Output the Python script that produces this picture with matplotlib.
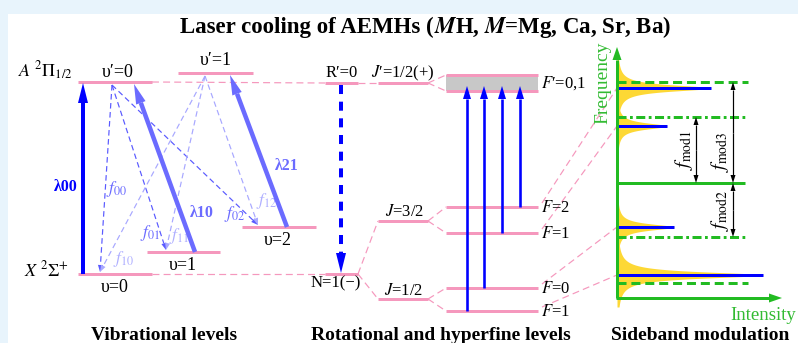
import numpy as np
import matplotlib
matplotlib.use("Agg")
import matplotlib.pyplot as plt
from matplotlib.patches import Rectangle

plt.rcParams['font.family'] = ['Liberation Serif', 'DejaVu Serif']
plt.rcParams['mathtext.fontset'] = 'stix'
plt.rcParams['lines.scale_dashes'] = False

# ---------------- data (diagram levels, in picture units) ----------------
vib_labels = ["υ′=0", "υ′=1", "υ=0", "υ=1", "υ=2"]
vib_level_y = [82, 73, 274, 252, 227]
vib_level_x = [(78, 152), (178, 253), (78, 152), (147, 220), (242, 316)]

decay_labels = ["00", "01", "02", "10", "11", "12"]
decay_from = [0, 0, 0, 1, 1, 1]          # index of upper vib level
decay_to = [2, 3, 4, 2, 3, 4]            # index of lower vib level

pump_labels = ["λ00", "λ10", "λ21"]

rot_labels = ["R′=0", r"$J$′=1/2(+)", "N=1(−)", r"$J$=3/2", r"$J$=1/2"]
rot_level_y = [83, 83, 274, 221, 299]

hf_labels = [r"$F$=2", r"$F$=1", r"$F$=0", r"$F$=1"]
hf_level_y = [207, 233, 288, 311]
band_y = (75, 91)

side_line_y = [88, 126, 227, 275]        # blue sideband frequencies
side_line_len = [94, 50, 57, 146]        # intensities (pixel length)
green_y = [82, 117, 183, 237, 283]
green_style = ['dash', 'dashdot', 'solid', 'dashdot', 'dash']
fmod_labels = [r"$f_{\mathrm{mod1}}$", r"$f_{\mathrm{mod3}}$", r"$f_{\mathrm{mod2}}$"]

# ---------------- figure ----------------
fig = plt.figure(figsize=(7.98, 3.43), dpi=100)
fig.patch.set_facecolor('#e8f4fc')
ax = fig.add_axes([0, 0, 1, 1])
ax.set_xlim(0, 798)
ax.set_ylim(343, 0)
ax.axis('off')
ax.add_patch(Rectangle((8, 14), 790, 329, facecolor='white', edgecolor='none', zorder=0))

PX = 0.72
PINK = '#f598bd'
BLUE = '#0000ff'
LBLUE = '#6b6bff'
DBLUE = '#5a5aff'
VLBLUE = '#a8a8ff'
GREEN = '#22bb22'


def arrow(x0, y0, x1, y1, color, w, hl, hw, dashes=None, z=3, head=True):
    d = np.array([x1 - x0, y1 - y0], float)
    L = np.hypot(*d)
    u = d / L
    n = np.array([-u[1], u[0]])
    b = np.array([x1, y1]) - u * hl
    kw = dict(color=color, lw=w * PX, solid_capstyle='butt', zorder=z)
    if dashes is not None:
        kw['dashes'] = dashes
        kw['dash_capstyle'] = 'butt'
    ax.plot([x0, b[0]], [y0, b[1]], **kw)
    if head:
        p1 = b + n * hw / 2
        p2 = b - n * hw / 2
        ax.fill([x1, p1[0], p2[0]], [y1, p1[1], p2[1]], color=color, lw=0, zorder=z)


def dbl_arrow(x, y0, y1, color='black'):
    ym = (y0 + y1) / 2
    arrow(x, ym, x, y0, color, 1.2, 8, 5)
    arrow(x, ym, x, y1, color, 1.2, 8, 5)


def level(x0, x1, y, lw=3):
    ax.plot([x0, x1], [y, y], color=PINK, lw=lw * PX, solid_capstyle='butt', zorder=2)


def pdash(xs, ys):
    ax.plot(xs, ys, color=PINK, lw=1.2 * PX, dashes=(5, 3), zorder=1)


# title
ax.text(434, 33, "Laser cooling of AEMHs (", fontsize=16.5, fontweight='bold', ha='right', va='baseline')
ax.text(434, 33, r"$\boldsymbol{M}$H, $\boldsymbol{M}$=Mg, Ca, Sr, Ba)", fontsize=16.5, fontweight='bold', ha='left', va='baseline')

# ---------------- vibrational levels ----------------
for (x0, x1), y in zip(vib_level_x, vib_level_y):
    level(x0, x1, y)
ax.text(45, 77, r"$A\ ^{2}\Pi_{1/2}$", fontsize=13, ha='center', va='baseline')
ax.text(46, 276, r"$X\ ^{2}\Sigma^{+}$", fontsize=13, ha='center', va='baseline')
vib_lab_pos = [(118, 77), (216, 65), (115, 292), (183, 270), (278, 245)]
for t, (x, y) in zip(vib_labels, vib_lab_pos):
    ax.text(x, y, t, fontsize=13, ha='center', va='baseline')

# connectors to rotational panel
pdash([152, 325], [vib_level_y[0], rot_level_y[0]])
pdash([152, 325], [vib_level_y[2], rot_level_y[2]])

# decay (dashed) arrows
start_pts = [(112, 85), (205, 76)]
end_x = {2: 100, 3: 166, 4: 258}
for lab, fi, ti in zip(decay_labels, decay_from, decay_to):
    sx, sy = start_pts[fi]
    col = DBLUE if fi == 0 else VLBLUE
    arrow(sx, sy, end_x[ti], vib_level_y[ti] - 2, col, 1.2, 7, 5, dashes=(4, 2.5), z=2)

flab_pos = {"00": (106, 193), "01": (140, 237), "02": (224, 218), "10": (113, 263),
            "11": (169, 240), "12": (256, 205)}
for lab in decay_labels:
    x, y = flab_pos[lab]
    col = '#6a6aff' if lab[0] == '0' else '#b0b0ff'
    ax.text(x, y, r"$f_{%s}$" % lab, fontsize=12.5, color=col, ha='left', va='baseline', zorder=2)

# pump arrows
arrow(83, vib_level_y[2], 83, vib_level_y[0] + 1, BLUE, 4, 20, 10, z=3)
arrow(195, vib_level_y[3], 134, vib_level_y[0] + 2, LBLUE, 4.5, 20, 10, z=3)
arrow(287, vib_level_y[4], 230, vib_level_y[1] + 2, LBLUE, 4.5, 20, 10, z=3)
ax.text(66, 191, pump_labels[0], fontsize=11.5, fontweight='bold', color=BLUE, ha='center', va='baseline')
ax.text(202, 217, pump_labels[1], fontsize=11.5, fontweight='bold', color=LBLUE, ha='center', va='baseline')
ax.text(287, 170, pump_labels[2], fontsize=11.5, fontweight='bold', color=LBLUE, ha='center', va='baseline')

# ---------------- rotational / hyperfine ----------------
level(325, 358, rot_level_y[0])
level(378, 428, rot_level_y[1])
level(325, 358, rot_level_y[2])
level(378, 428, rot_level_y[3])
level(378, 428, rot_level_y[4])
pdash([358, 378], [rot_level_y[0], rot_level_y[1]])
pdash([358, 378], [rot_level_y[2], rot_level_y[3]])
pdash([358, 378], [rot_level_y[2], rot_level_y[4]])
ax.text(342, 77, rot_labels[0], fontsize=12, ha='center', va='baseline')
ax.text(403, 77, rot_labels[1], fontsize=12, ha='center', va='baseline')
ax.text(336, 287, rot_labels[2], fontsize=12, ha='center', va='baseline')
ax.text(405, 216, rot_labels[3], fontsize=12, ha='center', va='baseline')
ax.text(404, 295, rot_labels[4], fontsize=12, ha='center', va='baseline')

# upper F' band
ax.add_patch(Rectangle((446, band_y[0]), 92, band_y[1] - band_y[0], facecolor='#c8c8c8',
                       edgecolor='none', zorder=1))
level(446, 538, band_y[0])
level(446, 538, band_y[1])
pdash([428, 446], [rot_level_y[1], band_y[0]])
pdash([428, 446], [rot_level_y[1], band_y[1]])
ax.text(541, 88, r"$F$′=0,1", fontsize=12, ha='left', va='baseline')

# hyperfine levels
for y in hf_level_y:
    level(446, 538, y)
pdash([428, 446], [rot_level_y[3], hf_level_y[0]])
pdash([428, 446], [rot_level_y[3], hf_level_y[1]])
pdash([428, 446], [rot_level_y[4], hf_level_y[2]])
pdash([428, 446], [rot_level_y[4], hf_level_y[3]])
for t, y in zip(hf_labels, hf_level_y):
    ax.text(541, y + 5, t, fontsize=12, ha='left', va='baseline')

# dashed decay R'=0 -> N=1
arrow(341, rot_level_y[0] + 2, 341, rot_level_y[2] - 1, BLUE, 4, 20, 10, dashes=(6.5, 5.5), z=3)

# hyperfine pump arrows
for x, y in zip([520, 502, 484, 467], hf_level_y):
    arrow(x, y, x, 86, BLUE, 2.6, 13, 8, z=3)

# pink mapping lines to sideband panel
for y0, y1 in zip(hf_level_y, side_line_y):
    pdash([542, 617], [y0 - 4, y1])

# ---------------- sideband panel ----------------
AX0 = 617
yy = np.linspace(-32, 32, 400)
g = 3.8
for y0, L in zip(side_line_y, side_line_len):
    prof = L * g ** 2 / (g ** 2 + yy ** 2)
    ax.fill_betweenx(y0 + yy, AX0, AX0 + prof, color='#fdd835', lw=0, zorder=1)
for y0, L in zip(side_line_y, side_line_len):
    ax.plot([AX0, AX0 + L], [y0, y0], color=BLUE, lw=3 * PX, solid_capstyle='butt', zorder=3)

for y, s in zip(green_y, green_style):
    if s == 'solid':
        ax.plot([AX0, 745], [y, y], color=GREEN, lw=3 * PX, solid_capstyle='butt', zorder=2)
    elif s == 'dash':
        ax.plot([AX0, 748], [y, y], color=GREEN, lw=3 * PX, dashes=(6.5, 3.5), zorder=2)
    else:
        ax.plot([AX0, 748], [y, y], color=GREEN, lw=3 * PX, dashes=(6.5, 2.5, 2, 2.5), zorder=2)

# axes arrows
arrow(AX0, 298, AX0, 47, GREEN, 3, 13, 9, z=4)
arrow(AX0 - 1.5, 298, 782, 298, GREEN, 3, 13, 9, z=4)
ax.text(603, 83, "Frequency", fontsize=14, color='#33bb33', rotation=90, ha='center', va='center')
ax.text(796, 320, "Intensity", fontsize=13.5, color='#33bb33', ha='right', va='baseline')

dbl_arrow(696, green_y[1], green_y[2])
dbl_arrow(733, green_y[0], green_y[2])
dbl_arrow(733, green_y[2], green_y[3])
ax.text(684, 150, fmod_labels[0], fontsize=14, rotation=90, ha='center', va='center')
ax.text(720, 152, fmod_labels[1], fontsize=14, rotation=90, ha='center', va='center')
ax.text(720, 210, fmod_labels[2], fontsize=14, rotation=90, ha='center', va='center')

# bottom captions
ax.text(164, 340, "Vibrational levels", fontsize=14, fontweight='bold', ha='center', va='baseline')
ax.text(441, 340, "Rotational and hyperfine levels", fontsize=14, fontweight='bold', ha='center', va='baseline')
ax.text(700, 340, "Sideband modulation", fontsize=14, fontweight='bold', ha='center', va='baseline')

fig.savefig("out.png", dpi=100, facecolor=fig.get_facecolor())
